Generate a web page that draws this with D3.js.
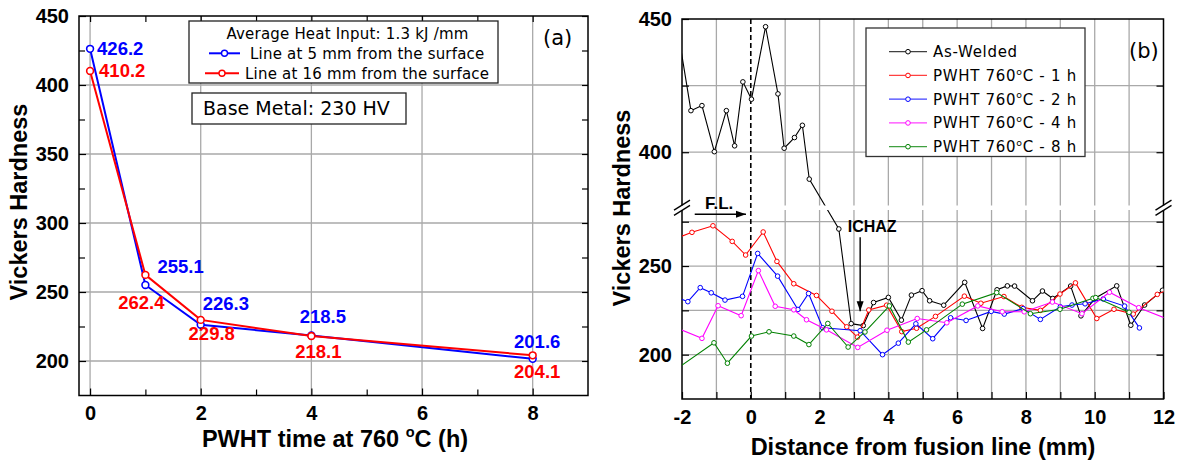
<!DOCTYPE html>
<html lang="en">
<head>
<meta charset="UTF-8">
<title>Vickers Hardness after PWHT</title>
<script src="https://d3js.org/d3.v7.min.js"></script>
<style>
  body { margin: 0; background: #fff; }
  text { font-family: "Liberation Sans", Arial, sans-serif; fill: #000; }
  .num { font-weight: bold; font-size: 20px; }
  .title { font-weight: bold; font-size: 23.5px; }
  .note { font-family: "DejaVu Sans", sans-serif; }
</style>
</head>
<body>
<svg id="chart" width="1180" height="462"></svg>
<script>
// ---------- panel (a): hardness vs PWHT time
const pwhtTime = [0, 1, 2, 4, 8];
const hvLine5 = [426.2, 255.1, 226.3, 218.5, 201.6];
const hvLine16 = [410.2, 262.4, 229.8, 218.1, 204.1];
const xTicksA = [0, 2, 4, 6, 8];
const yTicksA = [200, 250, 300, 350, 400, 450];

// ---------- panel (b): hardness traverse, [distance (mm), HV]
const asWelded = [[-2.1, 444], [-1.74, 415.6], [-1.42, 417.5], [-1.06, 400.2], [-0.71, 415.6], [-0.47, 402.4],
  [-0.23, 426.4], [0.02, 419.9], [0.43, 447.1], [0.79, 421.9], [0.97, 401.5], [1.27, 405.5], [1.5, 410.1],
  [1.7, 389.9], [2.56, 270.9], [2.92, 217.5], [3.27, 216.4], [3.57, 229.4], [4.0, 232.3], [4.38, 219.5],
  [4.67, 233.6], [4.98, 236.1], [5.2, 230.4], [5.61, 227.9], [6.22, 240.8], [6.74, 214.8], [7.16, 236.6],
  [7.46, 238.8], [7.67, 238.7], [8.19, 230.4], [8.48, 235.9], [8.78, 231.7], [9.3, 238.7], [9.6, 221.9],
  [10.01, 231.8], [10.64, 238.8], [11.05, 216.6], [11.45, 228.0], [11.97, 236.3]];
const pwht1h = [[-2.3, 264.7], [-1.71, 269.0], [-1.1, 272.7], [-0.54, 263.9], [-0.15, 256.2], [0.36, 269.2],
  [0.76, 252.6], [1.25, 240.0], [1.91, 233.4], [2.36, 224.5], [2.79, 215.7], [3.1, 209.9], [3.43, 225.2],
  [3.95, 227.9], [4.39, 213.0], [4.82, 214.9], [5.37, 221.6], [6.21, 233.0], [6.69, 229.0], [7.36, 232.8],
  [7.88, 226.7], [8.42, 225.0], [8.99, 234.2], [9.44, 240.5], [10.06, 220.4], [10.56, 225.6], [11.12, 222.9],
  [11.82, 234.0], [12.15, 237.0]];
const pwht2h = [[-2.2, 232.7], [-1.83, 229.9], [-1.47, 237.8], [-1.15, 234.9], [-0.75, 230.8], [-0.24, 232.9],
  [0.2, 257.1], [0.78, 244.3], [1.37, 225.5], [1.68, 234.5], [2.09, 215.2], [3.18, 213.5], [3.83, 200.0],
  [4.29, 206.5], [4.8, 217.4], [5.29, 209.0], [5.81, 220.8], [6.26, 219.3], [6.99, 224.4], [7.37, 222.9],
  [7.92, 226.0], [8.42, 219.9], [9.0, 227.0], [9.34, 228.0], [9.72, 228.7], [10.25, 231.4], [10.87, 227.4],
  [11.3, 215.1]];
const pwht4h = [[-2.3, 216.3], [-1.42, 209.2], [-0.95, 227.6], [-0.28, 222.0], [0.22, 247.4], [0.71, 227.3],
  [1.25, 225.3], [1.62, 219.7], [2.2, 214.0], [3.11, 204.1], [3.96, 213.8], [4.84, 220.4], [5.7, 218.0],
  [6.6, 227.5], [7.31, 224.2], [7.95, 224.2], [8.77, 229.7], [9.63, 223.1], [10.43, 235.2], [11.28, 226.5],
  [12.3, 218.7]];
const pwht8h = [[-2.3, 190.0], [-1.07, 206.7], [-0.68, 195.2], [0.02, 210.5], [0.53, 212.9], [1.25, 210.5],
  [1.69, 205.7], [2.24, 217.6], [2.83, 204.3], [3.32, 212.8], [4.03, 227.5], [4.58, 207.1], [5.11, 214.0],
  [6.15, 228.5], [7.15, 235.0], [8.13, 223.1], [8.99, 225.6], [9.95, 231.8], [10.03, 232.2], [11.0, 223.9]];
const legendB = ["As-Welded", "PWHT 760°C - 1 h", "PWHT 760°C - 2 h", "PWHT 760°C - 4 h", "PWHT 760°C - 8 h"];
const colorsB = ["#000000", "#ff0000", "#0000ff", "#ff00ff", "#008000"];
const xTicksB = d3.range(-2, 13);
const yTicksUpper = [400, 450];
const yTicksLower = [200, 250];

const svg = d3.select("#chart");
const gridColor = "#a9a9a9";

function styleAxis(g) {
  g.select(".domain").remove();
  g.selectAll(".tick line").attr("stroke", "#000").attr("stroke-width", 1.2);
  g.selectAll(".tick text").attr("class", "num");
}

// text with a raised small "o" in place of the degree sign
function supText(sel, str, size) {
  const parts = str.split("°");
  sel.append("tspan").text(parts[0]);
  if (parts.length > 1) {
    sel.append("tspan").attr("dy", -size * 0.42).attr("font-size", size * 0.62).text("o");
    sel.append("tspan").attr("dy", size * 0.42).text(parts[1]);
  }
}

// ================= panel (a)
const A = {l: 79, r: 588, t: 16, b: 395.5};
const xA = d3.scaleLinear().domain([-0.2, 9]).range([A.l, A.r]);
const yA = d3.scaleLinear().domain([175, 450]).range([A.b, A.t]);
const gA = svg.append("g");

gA.append("g").selectAll("line").data(xTicksA).join("line")
  .attr("x1", d => xA(d)).attr("x2", d => xA(d)).attr("y1", A.t).attr("y2", A.b)
  .attr("stroke", gridColor).attr("stroke-width", 1.3);
gA.append("g").selectAll("line").data(yTicksA.slice(0, -1)).join("line")
  .attr("y1", d => yA(d)).attr("y2", d => yA(d)).attr("x1", A.l).attr("x2", A.r)
  .attr("stroke", gridColor).attr("stroke-width", 1.3);

gA.append("g").attr("transform", `translate(0,${A.b})`)
  .call(d3.axisBottom(xA).tickValues(xTicksA).tickSize(-7).tickPadding(10).tickFormat(d3.format("d"))).call(styleAxis);
gA.append("g").attr("transform", `translate(0,${A.b})`)
  .call(d3.axisBottom(xA).tickValues([1, 3, 5, 7]).tickSize(-6).tickFormat("")).call(styleAxis);
gA.append("g").attr("transform", `translate(0,${A.t})`)
  .call(d3.axisTop(xA).tickValues(d3.range(0, 9)).tickSize(-6).tickFormat("")).call(styleAxis);
gA.append("g").attr("transform", `translate(${A.l},0)`)
  .call(d3.axisLeft(yA).tickValues(yTicksA).tickSize(-7).tickPadding(10)).call(styleAxis);
gA.append("g").attr("transform", `translate(${A.l},0)`)
  .call(d3.axisLeft(yA).tickValues(d3.range(225, 450, 50)).tickSize(-6).tickFormat("")).call(styleAxis);
gA.append("g").attr("transform", `translate(${A.r},0)`)
  .call(d3.axisRight(yA).tickValues(d3.range(200, 451, 25)).tickSize(-6).tickFormat("")).call(styleAxis);

gA.append("rect").attr("x", A.l).attr("y", A.t).attr("width", A.r - A.l).attr("height", A.b - A.t)
  .attr("fill", "none").attr("stroke", "#000").attr("stroke-width", 1.5);

const lineA = d3.line().x(d => xA(d[0])).y(d => yA(d[1]));
// label nudges [dx, dy, anchor] relative to each point
const nudge5 = [[7, -1, "start"], [12, -19, "start"], [2, -21, "start"], [11.5, -19.5, "middle"], [4.5, -17, "middle"]];
const nudge16 = [[9, -1, "start"], [-4, 27, "middle"], [11, 13, "middle"], [7, 15, "middle"], [4.5, 16, "middle"]];
const seriesA = [
  {vals: hvLine5, color: "#0000ff", nudge: nudge5},
  {vals: hvLine16, color: "#ff0000", nudge: nudge16}
];
seriesA.forEach(s => {
  const pts = d3.zip(pwhtTime, s.vals);
  gA.append("path").datum(pts).attr("d", lineA)
    .attr("fill", "none").attr("stroke", s.color).attr("stroke-width", 2);
  gA.append("g").selectAll("circle").data(pts).join("circle")
    .attr("cx", d => xA(d[0])).attr("cy", d => yA(d[1])).attr("r", 3.4)
    .attr("fill", "#fff").attr("stroke", s.color).attr("stroke-width", 1.6);
});
seriesA.forEach(s => {
  const pts = d3.zip(pwhtTime, s.vals);
  gA.append("g").selectAll("text").data(pts).join("text")
    .attr("x", (d, i) => xA(d[0]) + s.nudge[i][0])
    .attr("y", (d, i) => yA(d[1]) + s.nudge[i][1])
    .attr("dy", "0.36em").attr("text-anchor", (d, i) => s.nudge[i][2])
    .attr("font-weight", "bold").attr("font-size", 18.5).style("fill", s.color)
    .text(d => d3.format(".1f")(d[1]));
});

// legend (a)
const legA = gA.append("g").attr("class", "note");
legA.append("rect").attr("x", 189).attr("y", 21).attr("width", 309).attr("height", 62)
  .attr("fill", "#fff").attr("stroke", "#222").attr("stroke-width", 1.3);
legA.append("text").attr("class", "note").attr("x", 347.5).attr("y", 38.8).attr("text-anchor", "middle")
  .attr("font-size", 15).style("letter-spacing", "0.2px").text("Average Heat Input: 1.3 kJ /mm");
[["Line at 5 mm from the surface", "#0000ff", 209, 240, 250, 53.3],
 ["Line at 16 mm from the surface", "#ff0000", 205, 239, 245, 73.3]].forEach(e => {
  legA.append("line").attr("x1", e[2]).attr("x2", e[3]).attr("y1", e[5]).attr("y2", e[5])
    .attr("stroke", e[1]).attr("stroke-width", 2);
  legA.append("circle").attr("cx", (e[2] + e[3]) / 2).attr("cy", e[5]).attr("r", 3)
    .attr("fill", "#fff").attr("stroke", e[1]).attr("stroke-width", 1.4);
  legA.append("text").attr("class", "note").attr("x", e[4]).attr("y", e[5] + 5.5)
    .attr("font-size", 15).style("letter-spacing", "0.2px").text(e[0]);
});
gA.append("rect").attr("x", 192).attr("y", 93).attr("width", 214).attr("height", 31)
  .attr("fill", "#fff").attr("stroke", "#222").attr("stroke-width", 1.3);
gA.append("text").attr("class", "note").attr("x", 203).attr("y", 115)
  .attr("font-size", 19).text("Base Metal: 230 HV");
gA.append("text").attr("class", "note").attr("x", 543).attr("y", 45).attr("font-size", 21).text("(a)");

gA.append("text").attr("class", "title").attr("text-anchor", "middle")
  .attr("transform", "translate(19,202) rotate(-90)").attr("dy", "0.36em").text("Vickers Hardness");
const xtA = gA.append("text").attr("class", "title").attr("text-anchor", "middle")
  .attr("x", 335).attr("y", 447);
supText(xtA, "PWHT time at 760 °C (h)", 23.5);

// ================= panel (b)
const B = {l: 682, r: 1163.5, t: 19, bu: 205.5, tl: 210, b: 399};
const xB = d3.scaleLinear().domain([-2, 12]).range([B.l, B.r]);
const yUp = d3.scaleLinear().domain([380, 450]).range([B.bu, B.t]);
const yLo = d3.scaleLinear().domain([175, 281.6]).range([B.b, B.tl]);
const yB = v => (v >= 330 ? yUp(v) : yLo(v));
const gB = svg.append("g");

const defs = svg.append("defs");
const clip = defs.append("clipPath").attr("id", "clipB");
clip.append("rect").attr("x", B.l).attr("y", B.t).attr("width", B.r - B.l).attr("height", B.bu - B.t);
clip.append("rect").attr("x", B.l).attr("y", B.tl).attr("width", B.r - B.l).attr("height", B.b - B.tl);
defs.append("marker").attr("id", "arrow").attr("viewBox", "0 0 10 10").attr("refX", 10).attr("refY", 5)
  .attr("markerWidth", 10).attr("markerHeight", 10).attr("markerUnits", "userSpaceOnUse").attr("orient", "auto")
  .append("path").attr("d", "M0,1.5 L10,5 L0,8.5 Z").attr("fill", "#000");

// grid
const gridB = gB.append("g").attr("clip-path", "url(#clipB)");
gridB.selectAll(".gx").data(xTicksB.slice(1, -1).filter(d => d !== 0)).join("line")
  .attr("x1", d => xB(d)).attr("x2", d => xB(d)).attr("y1", B.t).attr("y2", B.b)
  .attr("stroke", gridColor).attr("stroke-width", 1.3);
gridB.selectAll(".gu").data([400, 425]).join("line")
  .attr("y1", d => yUp(d)).attr("y2", d => yUp(d)).attr("x1", B.l).attr("x2", B.r)
  .attr("stroke", gridColor).attr("stroke-width", 1.3);
gridB.selectAll(".gl").data([200, 225, 250, 275]).join("line")
  .attr("y1", d => yLo(d)).attr("y2", d => yLo(d)).attr("x1", B.l).attr("x2", B.r)
  .attr("stroke", gridColor).attr("stroke-width", 1.3);

// fusion line
gB.append("line").attr("x1", xB(0)).attr("x2", xB(0)).attr("y1", B.t).attr("y2", B.b)
  .attr("stroke", "#000").attr("stroke-width", 1.6).attr("stroke-dasharray", "5,3");

// axes
gB.append("g").attr("transform", `translate(0,${B.b})`)
  .call(d3.axisBottom(xB).tickValues(xTicksB).tickSize(-7).tickPadding(11)
    .tickFormat(d => (d % 2 === 0 ? String(d) : ""))).call(styleAxis);
gB.append("g").attr("transform", `translate(${B.l},0)`)
  .call(d3.axisLeft(yUp).tickValues([400, 425, 450]).tickSize(-7).tickPadding(10)
    .tickFormat(d => (yTicksUpper.includes(d) ? d : ""))).call(styleAxis);
gB.append("g").attr("transform", `translate(${B.l},0)`)
  .call(d3.axisLeft(yLo).tickValues([200, 225, 250, 275]).tickSize(-7).tickPadding(10)
    .tickFormat(d => (yTicksLower.includes(d) ? d : ""))).call(styleAxis);
gB.append("g").attr("transform", `translate(${B.r},0)`)
  .call(d3.axisRight(yUp).tickValues([400, 425]).tickSize(-7).tickFormat("")).call(styleAxis);
gB.append("g").attr("transform", `translate(${B.r},0)`)
  .call(d3.axisRight(yLo).tickValues([200, 225, 250, 275]).tickSize(-7).tickFormat("")).call(styleAxis);

// frame with break
const frame = gB.append("g").attr("stroke", "#000").attr("stroke-width", 1.5).attr("fill", "none");
frame.append("path").attr("d", `M${B.l},${B.bu}V${B.t}H${B.r}V${B.bu}`);
frame.append("path").attr("d", `M${B.l},${B.tl}V${B.b}H${B.r}V${B.tl}`);
[B.l, B.r].forEach(x => {
  [-2.6, 2.6].forEach(o => {
    const ym = (B.bu + B.tl) / 2 + o;
    gB.append("line").attr("x1", x - 8).attr("x2", x + 8).attr("y1", ym + 5).attr("y2", ym - 5)
      .attr("stroke", "#000").attr("stroke-width", 1.3);
  });
});

// data
const seriesB = [asWelded, pwht1h, pwht2h, pwht4h, pwht8h];
const lineB = d3.line().x(d => xB(d[0])).y(d => yB(d[1]));
const dataB = gB.append("g").attr("clip-path", "url(#clipB)");
seriesB.forEach((s, i) => {
  dataB.append("path").datum(s).attr("d", lineB)
    .attr("fill", "none").attr("stroke", colorsB[i]).attr("stroke-width", 1.1);
  dataB.append("g").selectAll("circle").data(s).join("circle")
    .attr("cx", d => xB(d[0])).attr("cy", d => yB(d[1])).attr("r", 2.3)
    .attr("fill", "#fff").attr("stroke", colorsB[i]).attr("stroke-width", 1);
});

// annotations
gB.append("line").attr("x1", xB(-1.63)).attr("x2", xB(-0.14)).attr("y1", yLo(279.2)).attr("y2", yLo(279.2))
  .attr("stroke", "#000").attr("stroke-width", 1.4).attr("marker-end", "url(#arrow)");
gB.append("text").attr("x", xB(-0.92)).attr("y", yLo(279.2) - 11).attr("dy", "0.36em")
  .attr("text-anchor", "middle").attr("font-weight", "bold").attr("font-size", 17).text("F.L.");
gB.append("text").attr("x", xB(3.53)).attr("y", yLo(272.6)).attr("dy", "0.36em")
  .attr("text-anchor", "middle").attr("font-weight", "bold").attr("font-size", 16).text("ICHAZ");
gB.append("line").attr("x1", xB(3.18)).attr("x2", xB(3.18)).attr("y1", yLo(266.2)).attr("y2", yLo(224.5))
  .attr("stroke", "#000").attr("stroke-width", 1.4).attr("marker-end", "url(#arrow)");

// legend (b)
const legB = gB.append("g");
legB.append("rect").attr("x", 866).attr("y", 28).attr("width", 219).attr("height", 128.5)
  .attr("fill", "#fff").attr("stroke", "#333").attr("stroke-width", 1.3);
legendB.forEach((name, i) => {
  const cy = 51.7 + i * 23.75;
  legB.append("line").attr("x1", 889).attr("x2", 927).attr("y1", cy).attr("y2", cy)
    .attr("stroke", colorsB[i]).attr("stroke-width", 1.3).attr("stroke-opacity", 0.75);
  legB.append("circle").attr("cx", 908).attr("cy", cy).attr("r", 2.3)
    .attr("fill", "#fff").attr("stroke", colorsB[i]).attr("stroke-width", 1);
  const t = legB.append("text").attr("class", "note").attr("x", 933).attr("y", cy + 5.5)
    .attr("font-size", 15).style("letter-spacing", "0.7px");
  supText(t, name, 15);
});
gB.append("text").attr("class", "note").attr("x", 1129).attr("y", 58).attr("font-size", 21).text("(b)");

gB.append("text").attr("class", "title").attr("text-anchor", "middle")
  .attr("transform", "translate(622,208) rotate(-90)").attr("dy", "0.36em").text("Vickers Hardness");
gB.append("text").attr("class", "title").attr("text-anchor", "middle")
  .attr("x", 923).attr("y", 447).attr("dy", "0.36em").text("Distance from fusion line (mm)");
</script>
</body>
</html>
